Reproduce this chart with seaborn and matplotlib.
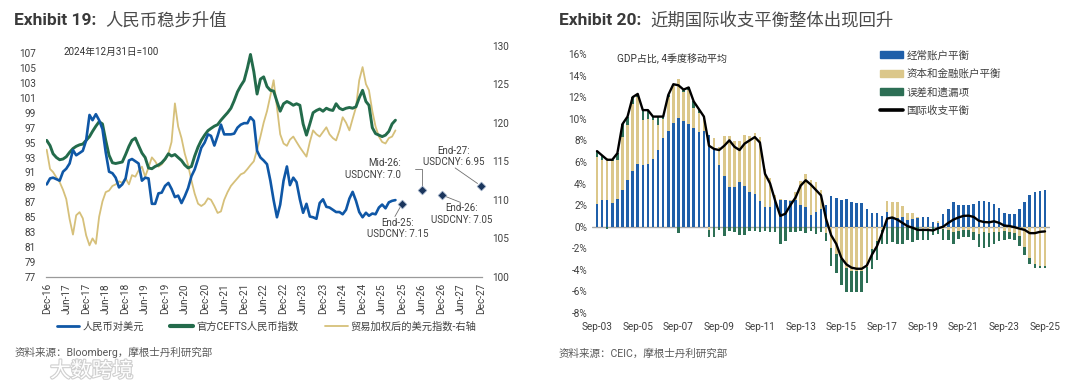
import numpy as np
import pandas as pd
import matplotlib
matplotlib.use("Agg")
import matplotlib.pyplot as plt
import matplotlib.dates as mdates
import matplotlib.patheffects as pe
from matplotlib.lines import Line2D
from matplotlib.patches import Patch
import seaborn as sns

sns.set_theme(style="white")
plt.rcParams['font.family'] = ['Roboto', 'Noto Sans CJK SC', 'DejaVu Sans']
plt.rcParams['axes.unicode_minus'] = False

# ---------------- Exhibit 19 data (month-end, Dec-16 .. Oct-25) ----------------
month_start = "2016-12-31"
cny_usd = [89.4, 90.2, 90.3, 90.1, 89.9, 91.1, 91.5, 92.2, 94.0, 93.3,
           93.6, 93.9, 95.3, 98.7, 98.0, 98.8, 98.0, 96.8, 93.7, 91.1,
           90.9, 90.3, 89.0, 89.4, 90.2, 92.6, 92.8, 92.5, 92.2, 89.9,
           90.3, 90.2, 86.8, 86.8, 88.2, 88.3, 89.2, 89.6, 88.8, 87.7,
           87.9, 86.9, 87.8, 88.9, 90.5, 91.4, 92.8, 94.3, 95.0, 96.1,
           95.9, 94.6, 95.9, 97.4, 96.1, 96.1, 96.1, 96.2, 97.0, 97.4,
           97.6, 97.6, 98.4, 97.9, 93.9, 93.0, 92.6, 92.1, 89.9, 87.3,
           85.0, 86.7, 89.9, 91.8, 89.3, 90.3, 89.7, 87.4, 85.6, 86.8,
           85.1, 85.0, 84.8, 86.9, 87.4, 86.4, 86.3, 86.0, 85.7, 85.7,
           85.4, 86.0, 87.5, 88.4, 87.2, 85.7, 85.0, 85.6, 85.2, 85.5,
           85.4, 86.3, 86.7, 86.2, 87.0, 87.2, 87.3]
cefts = [95.3, 94.6, 93.5, 93.0, 92.7, 92.8, 93.1, 93.7, 94.2, 94.5,
         94.7, 94.8, 95.3, 95.8, 96.5, 97.2, 97.8, 97.5, 95.3, 93.3,
         92.3, 92.2, 92.3, 92.4, 93.4, 94.5, 95.3, 95.6, 94.6, 93.6,
         93.0, 91.6, 91.5, 91.8, 92.0, 92.3, 92.8, 93.5, 93.2, 93.4,
         93.0, 92.6, 92.0, 91.6, 91.8, 93.2, 94.4, 95.3, 96.0, 96.6,
         96.9, 97.2, 97.4, 98.0, 98.5, 99.0, 99.6, 100.6, 101.8, 102.6,
         103.3, 105.0, 106.8, 104.5, 101.5, 103.5, 103.8, 102.5, 102.0, 101.9,
         100.5, 99.2, 100.2, 100.5, 100.3, 100.0, 100.2, 100.0, 97.5, 96.0,
         97.5, 99.0, 99.3, 99.5, 99.2, 99.6, 99.4, 99.3, 100.2, 99.6,
         99.4, 99.6, 99.7, 99.6, 99.8, 101.0, 102.0, 100.5, 100.0, 97.0,
         96.2, 96.0, 95.8, 96.0, 96.5, 97.5, 98.0]
usd_twi = [116.5, 114.0, 113.6, 112.9, 112.3, 111.3, 110.1, 107.5, 105.5, 108.0,
           108.4, 107.6, 105.4, 104.1, 105.0, 104.3, 107.8, 109.8, 111.0, 111.2,
           111.8, 112.0, 112.4, 112.2, 112.8, 112.0, 113.2, 113.0, 113.8, 114.3,
           113.0, 114.2, 115.5, 115.0, 114.3, 114.6, 115.2, 116.0, 117.5, 122.5,
           119.5, 118.0, 116.0, 114.5, 112.5, 110.8, 109.5, 109.2, 109.5, 110.2,
           110.0, 109.2, 108.3, 108.5, 110.0, 111.0, 111.8, 112.3, 112.8, 113.3,
           113.5, 114.0, 114.5, 115.0, 116.5, 118.2, 120.0, 121.5, 123.5, 125.5,
           122.0, 118.5, 117.3, 117.0, 117.8, 118.2, 117.5, 116.8, 116.2, 115.6,
           117.5, 119.0, 118.5, 118.2, 118.8, 119.4, 118.5, 118.0, 117.7, 119.0,
           120.7, 120.0, 119.0, 120.5, 122.0, 125.5, 127.2, 125.0, 124.2, 121.5,
           119.5, 118.2, 117.5, 117.3, 118.0, 118.2, 119.0]

fc_dates = ["2025-12-31", "2026-06-30", "2026-12-31", "2027-12-31"]
fc_index = [86.8, 88.6, 88.0, 89.2]
fc_labels = ["End-25:\nUSDCNY: 7.15", "Mid-26:\nUSDCNY: 7.0",
             "End-26:\nUSDCNY: 7.05", "End-27:\nUSDCNY: 6.95"]

left_ticks = list(range(77, 108, 2))
right_ticks = list(range(100, 131, 5))
legend19 = ["人民币对美元", "官方CEFTS人民币指数", "贸易加权后的美元指数-右轴"]

# ---------------- Exhibit 20 data (quarterly, Sep-03 .. Sep-25), % of GDP ----------------
q_start, q_end = "2003Q3", "2025Q3"
current_acct = [2.1, 2.5, 2.5, 2.2, 2.6, 3.4, 4.3, 5.2, 5.8, 5.7,
                5.8, 6.3, 7.1, 8.2, 8.9, 9.6, 10.1, 9.8, 9.5, 9.1,
                8.8, 8.9, 8.5, 7.2, 5.7, 4.7, 3.7, 3.7, 4.1, 3.8,
                3.2, 3.0, 2.35, 1.8, 1.85, 2.5, 2.5, 2.5, 2.4, 2.5,
                2.0, 1.8, 1.1, 1.4, 1.6, 2.0, 2.8, 2.7, 2.5, 2.6,
                2.3, 2.2, 2.2, 1.6, 1.3, 1.3, 1.0, 1.4, 0.9, 0.8,
                0.9, 0.6, 0.7, 0.8, 0.9, 0.9, 0.4, 0.3, 1.2, 1.6,
                2.3, 2.0, 2.0, 2.0, 2.1, 2.4, 2.4, 2.3, 2.1, 1.7,
                1.3, 1.2, 1.2, 1.6, 2.3, 2.9, 3.2, 3.35, 3.4]
capital_fin = [4.4, 3.7, 3.9, 3.9, 3.6, 4.9, 5.1, 6.2, 6.2, 4.2,
               4.2, 3.6, 2.3, 1.8, 3.1, 3.6, 3.6, 2.7, 3.2, 1.9,
               1.7, 1.1, -0.3, 1.0, 1.7, 3.7, 4.7, 4.2, 3.8, 4.7,
               5.2, 5.7, 5.95, 3.5, 2.65, 0.4, 0.1, 0.0, 0.1, 0.7,
               2.2, 3.1, 3.2, 2.7, 1.8, -0.6, -2.0, -2.5, -3.0, -3.8,
               -4.1, -4.1, -4.1, -3.7, -2.1, -1.3, -0.3, 1.0, 1.4, 1.45,
               1.05, 0.7, 0.6, 0.1, -0.2, -0.3, 0.0, 0.2, -0.2, -0.3,
               -0.5, -0.4, -0.3, -0.3, -0.5, -0.7, -0.5, -0.6, -0.5, -0.5,
               -0.4, -0.5, -0.6, -0.9, -1.9, -2.9, -3.5, -3.6, -3.65]
errors_om = [0.5, 0.4, -0.2, 0.1, 0.6, 1.2, 0.8, 0.6, 0.3, 0.9,
             0.8, 0.3, 0.8, 0.2, 0.2, 0.0, -0.6, 0.2, 0.2, 0.6,
             0.4, 0.2, -0.7, -1.0, -0.3, -0.9, -0.4, -0.5, -0.8, -0.8,
             -0.4, -0.4, -0.5, -0.4, -0.5, -0.5, -1.6, -1.3, -0.5, -0.5,
             -0.4, -0.6, -0.4, -0.7, -0.5, -0.7, -1.6, -1.8, -2.4, -2.3,
             -2.0, -2.0, -2.0, -1.5, -1.8, -1.8, -1.3, -1.65, -1.45, -1.6,
             -1.6, -1.25, -1.4, -1.2, -1.0, -0.9, -0.75, -0.65, -1.0, -0.95,
             -1.15, -0.75, -0.7, -0.68, -0.7, -1.15, -1.47, -1.3, -1.1, -0.85,
             -0.8, -0.64, -0.65, -0.88, -0.7, -0.6, -0.3, -0.23, -0.19]
bop_balance = [7.0, 6.6, 6.2, 6.2, 6.8, 9.5, 10.2, 12.0, 12.3, 10.8,
               10.8, 10.2, 10.2, 10.2, 12.2, 13.2, 13.1, 12.7, 12.9, 11.6,
               10.9, 10.2, 7.5, 7.2, 7.1, 7.5, 8.0, 7.4, 7.1, 7.7,
               8.0, 8.3, 7.8, 4.9, 4.0, 2.4, 1.0, 1.2, 2.0, 2.7,
               3.8, 4.3, 3.9, 3.4, 2.9, 0.7, -0.8, -1.6, -2.9, -3.5,
               -3.8, -3.9, -3.9, -3.6, -2.6, -1.8, -0.6, 0.75, 0.85, 0.65,
               0.35, 0.05, -0.1, -0.3, -0.3, -0.3, -0.35, -0.15, 0.0, 0.35,
               0.65, 0.85, 1.0, 1.02, 0.9, 0.55, 0.43, 0.4, 0.5, 0.35,
               0.1, 0.06, -0.05, -0.18, -0.3, -0.6, -0.6, -0.48, -0.44]
pct_ticks = list(range(-8, 17, 2))
legend20 = ["经常账户平衡", "资本和金融账户平衡", "误差和遗漏项", "国际收支平衡"]

# ---------------- styling ----------------
BLUE, GREEN, GOLD = "#0f57a6", "#236b4b", "#d6c07a"
BAR_BLUE, BAR_GOLD, BAR_GREEN = "#1f5fa9", "#dbc78a", "#2d6f55"
NAVY = "#1b365d"
TXT = "#404040"
W, H = 1080, 386

fig = plt.figure(figsize=(W / 100, H / 100), dpi=100)

def fx(px):
    return px / W

def fy(py):
    return 1 - py / H

# ================= Exhibit 19 =================
months = pd.date_range(month_start, periods=len(cny_usd), freq="ME")
df19 = pd.DataFrame({"date": months, "cny": cny_usd, "cefts": cefts, "twi": usd_twi})

axG = fig.add_axes([fx(45.5), fy(277), fx(436), (277 - 45.5) / H])
axB = axG.twinx()

sns.lineplot(data=df19, x="date", y="twi", ax=axG, color=GOLD, lw=1.3, legend=False)
sns.lineplot(data=df19, x="date", y="cefts", ax=axB, color=GREEN, lw=2.1, legend=False)
sns.lineplot(data=df19, x="date", y="cny", ax=axB, color=BLUE, lw=1.9, legend=False)

fcd = pd.to_datetime(fc_dates)
axB.scatter(fcd, fc_index, marker="D", s=20, color=NAVY, edgecolor="#9fb0c8",
            linewidth=0.5, zorder=6, clip_on=False)

axG.set_xlim(pd.Timestamp("2016-12-20"), pd.Timestamp("2028-01-05"))
axG.set_ylim(100, 130)
axB.set_ylim(77, 108)
axG.set_yticks(right_ticks)
axB.set_yticks(left_ticks)
axG.yaxis.set_ticks_position("right")
axB.yaxis.set_ticks_position("left")

xt = pd.date_range("2016-12-31", "2027-12-31", freq="6ME")
axG.set_xticks(xt)
axG.set_xticklabels([d.strftime("%b-%y") for d in xt], rotation=90)

for a in (axG, axB):
    a.set_xlabel("")
    a.set_ylabel("")
    for s in a.spines.values():
        s.set_visible(False)
    a.grid(False)
axG.spines["bottom"].set_visible(True)
axG.spines["bottom"].set_color("#9a9a9a")
axG.spines["bottom"].set_linewidth(0.9)
axG.tick_params(axis="x", length=0, pad=4.5, labelsize=7.2, colors=TXT)
axG.tick_params(axis="y", length=0, pad=8, labelsize=7.2, colors=TXT)
axB.tick_params(axis="y", length=0, pad=7, labelsize=7.2, colors=TXT)

# forecast annotations
ann_specs = [
    ((-3.4, -10.0), "center", "top", (0.45, 1.0), "arc3", 1),
    ((-14.6, 15.6), "right", "center", (1.0, 0.5), "angle,angleA=0,angleB=90,rad=0", 10),
    ((14.6, -5.8), "center", "top", (0.5, 1.0), "arc3", 1),
    ((-19.4, 13.5), "center", "bottom", (0.5, 0.0), "arc3", 1),
]
for d, v, lab, (off, ha, va, rp, cs, sa) in zip(fcd, fc_index, fc_labels, ann_specs):
    axB.annotate(lab, xy=(mdates.date2num(d), v), xytext=off, textcoords="offset points",
                 ha=ha, va=va, fontsize=7, color=TXT, linespacing=1.2,
                 annotation_clip=False,
                 arrowprops=dict(arrowstyle="-", color="#707070", lw=0.6, relpos=rp,
                                 connectionstyle=cs, shrinkA=sa, shrinkB=3,
                                 patchA=None))

fig.text(fx(63.5), fy(52), "2024年12月31日=100", fontsize=7, color="#333333",
         ha="left", va="center")

h19 = [Line2D([], [], color=BLUE, lw=2.0), Line2D([], [], color=GREEN, lw=3.0),
       Line2D([], [], color=GOLD, lw=1.3)]
fig.legend(h19, legend19, loc="center left", bbox_to_anchor=(fx(56.5), fy(326.5)),
           ncol=3, frameon=False, fontsize=7.4, handlelength=2.2, handletextpad=0.3,
           columnspacing=2.6, borderpad=0, borderaxespad=0, labelcolor=TXT)

fig.text(fx(14.5), fy(20.5), "Exhibit 19:", fontsize=12.5, fontweight="bold",
         color="#3a3a3a", ha="left", va="center")
fig.text(fx(105), fy(20.5), "人民币稳步升值", fontsize=12.5, color="#4a4a4a",
         ha="left", va="center")
fig.text(fx(14.5), fy(352.5), "资料来源：Bloomberg，摩根士丹利研究部", fontsize=7.6,
         color="#5a5a5a", ha="left", va="center")
fig.text(fx(50), fy(371), "大数跨境", fontsize=15, color="white", ha="left", va="center",
         path_effects=[pe.withStroke(linewidth=1.6, foreground="#cfcfcf")])

# ================= Exhibit 20 =================
quarters = pd.period_range(q_start, q_end, freq="Q")
n = len(quarters)
qx = np.arange(n)
axR = fig.add_axes([fx(591.9), fy(313), fx(458.2), (313 - 54) / H])

pos = np.zeros(n)
neg = np.zeros(n)
for vals, col in [(current_acct, BAR_BLUE), (capital_fin, BAR_GOLD), (errors_om, BAR_GREEN)]:
    v = np.asarray(vals, dtype=float)
    bottom = np.where(v >= 0, pos, neg)
    axR.bar(qx, v, bottom=bottom, width=0.5, color=col, linewidth=0, zorder=2)
    pos += np.where(v > 0, v, 0)
    neg += np.where(v < 0, v, 0)

axR.axhline(0, color="#a8a8a8", lw=1.0, zorder=1)
sns.lineplot(x=qx, y=bop_balance, ax=axR, color="black", lw=1.7, zorder=4, legend=False)

axR.set_xlim(-1, n)
axR.set_ylim(-8, 16)
axR.set_yticks(pct_ticks)
axR.set_yticklabels([f"{t}%" for t in pct_ticks])
xt_idx = qx[::8]
axR.set_xticks(xt_idx)
axR.set_xticklabels([quarters[i].end_time.strftime("%b-%y") for i in xt_idx])
for s in axR.spines.values():
    s.set_visible(False)
axR.grid(False)
axR.set_xlabel("")
axR.set_ylabel("")
axR.tick_params(axis="x", length=0, pad=6.5, labelsize=7.2, colors=TXT)
axR.tick_params(axis="y", length=0, pad=3.5, labelsize=7.2, colors=TXT)

axR.text(fx(617), fy(59.3), "GDP占比, 4季度移动平均", transform=fig.transFigure,
         fontsize=7.2, color="#333333", ha="left", va="center")

h20 = [Patch(color=BAR_BLUE), Patch(color=BAR_GOLD), Patch(color=BAR_GREEN),
       Line2D([], [], color="black", lw=2.6)]
fig.legend(h20, legend20, loc="upper left", bbox_to_anchor=(fx(880), fy(50)),
           ncol=1, frameon=False, fontsize=7.6, handlelength=2.2, handleheight=0.6,
           handletextpad=0.3, labelspacing=0.78, borderpad=0, borderaxespad=0,
           labelcolor=TXT)

fig.text(fx(559), fy(20.5), "Exhibit 20:", fontsize=12.5, fontweight="bold",
         color="#3a3a3a", ha="left", va="center")
fig.text(fx(650), fy(20.5), "近期国际收支平衡整体出现回升", fontsize=12.5, color="#4a4a4a",
         ha="left", va="center")
fig.text(fx(559), fy(353.5), "资料来源：CEIC，摩根士丹利研究部", fontsize=7.6,
         color="#5a5a5a", ha="left", va="center")

fig.savefig("out.png", dpi=100, facecolor="white")
